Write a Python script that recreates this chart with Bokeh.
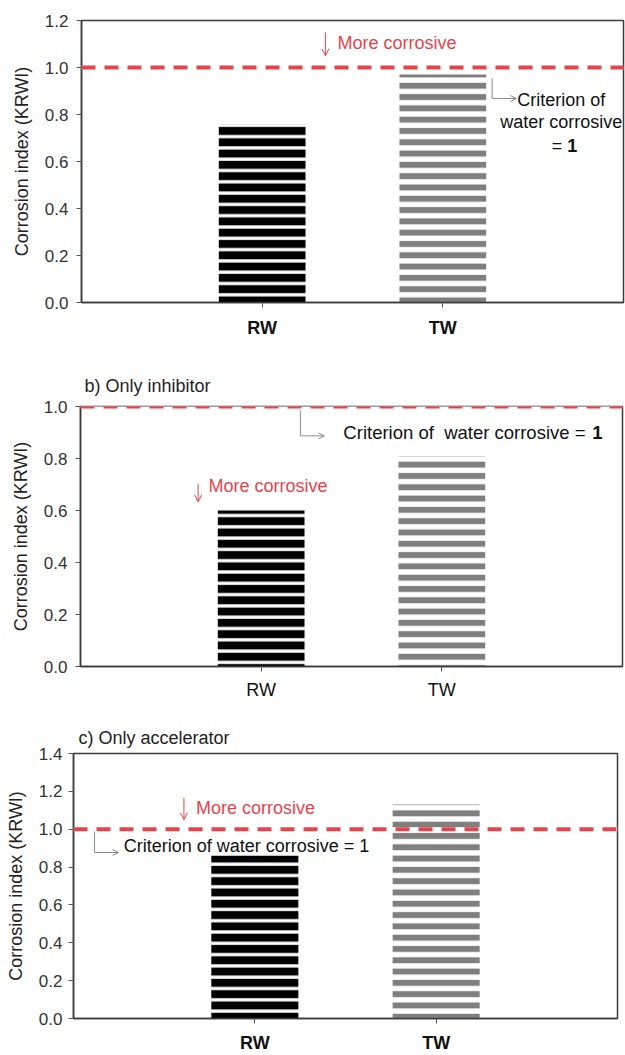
from bokeh.plotting import figure
from bokeh.models import (FactorRange, Range1d, Span, Arrow, OpenHead, Label,
                          FixedTicker, NumeralTickFormatter, ColumnDataSource)
from bokeh.embed import file_html
from bokeh.resources import INLINE

# ---------------- data ----------------
categories = ["RW", "TW"]
krwi_a = [0.76, 0.97]
krwi_b = [0.60, 0.81]
krwi_c = [0.86, 1.13]
yticks_a = [0.0, 0.2, 0.4, 0.6, 0.8, 1.0, 1.2]
yticks_b = [0.0, 0.2, 0.4, 0.6, 0.8, 1.0]
yticks_c = [0.0, 0.2, 0.4, 0.6, 0.8, 1.0, 1.2, 1.4]
criterion = 1.0
title_b = "b) Only inhibitor"
title_c = "c) Only accelerator"
y_label = "Corrosion index (KRWI)"
more_text = "More corrosive"

# ---------------- styles ----------------
FONT = "Liberation Sans"
RED = "#e8434b"
GREY_LINE = "#8a8a8a"
stripe_colors = ["#000000", "#7f7f7f"]
stripe_weights = [8, 6]
stripe_scales = [11.3, 11.3]


def make_panel(vals, ticks, ymax, width, height, left, right, top, bottom,
               title, title_offset, title_standoff, bold, tick_standoff,
               xlab_standoff):
    p = figure(x_range=FactorRange(factors=categories, range_padding=0.5),
               y_range=Range1d(0, ymax), width=width, height=height,
               output_backend="svg", toolbar_location=None,
               min_border_left=left, min_border_right=right,
               min_border_top=top, min_border_bottom=bottom)
    if title is None:
        p.title = None
    else:
        p.title.text = title
        p.title.align = "left"
        p.title.offset = title_offset
        p.title.text_font = FONT
        p.title.text_font_size = "18px"
        p.title.text_font_style = "normal"
        p.title.text_color = "#222222"
        p.title.standoff = title_standoff
    p.background_fill_color = "white"
    p.border_fill_color = "white"
    p.outline_line_color = "#3a3a3a"
    p.outline_line_width = 1.5
    p.xgrid.visible = False
    p.ygrid.visible = False

    src = ColumnDataSource(dict(cat=categories, val=vals, hc=stripe_colors,
                                hw=stripe_weights, hs=stripe_scales))
    p.vbar(x="cat", top="val", width=0.48, source=src, fill_color="white",
           line_color=None, hatch_pattern="horizontal_line",
           hatch_color="hc", hatch_weight="hw", hatch_scale="hs")

    p.add_layout(Span(location=criterion, dimension="width", line_color="white",
                      line_width=4))
    p.add_layout(Span(location=criterion, dimension="width", line_color=RED,
                      line_width=4, line_dash="14 9"))

    for ax in (p.xaxis[0], p.yaxis[0]):
        ax.axis_line_color = "#3a3a3a"
        ax.axis_line_width = 1.5
        ax.major_tick_line_color = "#555555"
        ax.major_tick_out = 5
        ax.major_tick_in = 0
        ax.minor_tick_line_color = None
        ax.major_label_text_font = FONT

    ya = p.yaxis[0]
    ya.ticker = FixedTicker(ticks=ticks)
    ya.formatter = NumeralTickFormatter(format="0.0")
    ya.major_label_text_font_size = "17px"
    ya.major_label_text_color = "#333333"
    ya.major_label_standoff = tick_standoff
    ya.axis_label = y_label
    ya.axis_label_text_font = FONT
    ya.axis_label_text_font_size = "18px"
    ya.axis_label_text_font_style = "normal"
    ya.axis_label_text_color = "#222222"
    ya.axis_label_standoff = 10

    xa = p.xaxis[0]
    xa.major_label_text_font_size = "18px"
    xa.major_label_text_font_style = "bold" if bold else "normal"
    xa.major_label_text_color = "#111111"
    xa.major_label_standoff = xlab_standoff
    return p


def lab(p, x, y, text, color="#111111", align="left", bold=False, xoff=0,
        size="18px"):
    p.add_layout(Label(x=x, y=y, text=text, text_font=FONT, text_font_size=size,
                       text_color=color, text_align=align, text_baseline="middle",
                       text_font_style="bold" if bold else "normal", x_offset=xoff))


def more_arrow(p, x, y0, y1, tx, ty):
    p.add_layout(Arrow(end=OpenHead(size=7, line_color=RED, line_width=1),
                       x_start=x, y_start=y0, x_end=x, y_end=y1,
                       line_color=RED, line_width=1))
    lab(p, tx, ty, more_text, color=RED)


def connector(p, x0, y0, y1, x1):
    p.add_layout(Arrow(end=None, x_start=x0, y_start=y0, x_end=x0, y_end=y1,
                       line_color=GREY_LINE, line_width=1))
    p.add_layout(Arrow(end=OpenHead(size=6, line_color=GREY_LINE, line_width=1),
                       x_start=x0, y_start=y1, x_end=x1, y_end=y1,
                       line_color=GREY_LINE, line_width=1))


# ---------------- panel a ----------------
pa = make_panel(krwi_a, yticks_a, 1.2, 625, 345, 81, 2, 20, 43,
                None, 0, 0, True, 8, 10)
more_arrow(pa, 0.85, 1.15, 1.05, 0.917, 1.106)
connector(pa, 1.773, 0.953, 0.868, 1.907)
lab(pa, 2.156, 0.860, "Criterion of", align="center")
lab(pa, 2.156, 0.766, "water corrosive", align="center")
lab(pa, 2.156, 0.668, "=", align="right", xoff=1)
lab(pa, 2.156, 0.668, "1", align="left", bold=True, xoff=6)

# ---------------- panel b ----------------
pb = make_panel(krwi_b, yticks_b, 1.0, 625, 360, 80, 3, 61, 39,
                title_b, 4, 21, False, 8, 8)
more_arrow(pb, 0.151, 0.703, 0.633, 0.208, 0.695)
connector(pb, 0.717, 0.985, 0.887, 0.850)
lab(pb, 0.955, 0.899, "Criterion of\u00a0 water corrosive =", size="18.5px")
lab(pb, 0.955, 0.899, "1", bold=True, xoff=249, size="18.5px")

# ---------------- panel c ----------------
pc = make_panel(krwi_c, yticks_c, 1.4, 625, 350, 73, 8, 48, 33,
                title_c, 5, 11, True, 6, 9)
more_arrow(pc, 0.109, 1.165, 1.05, 0.175, 1.113)
connector(pc, -0.384, 0.987, 0.877, -0.251)
lab(pc, -0.223, 0.913, "Criterion of water corrosive = 1")

open("out.html", "w").write(file_html([pa, pb, pc], INLINE))
